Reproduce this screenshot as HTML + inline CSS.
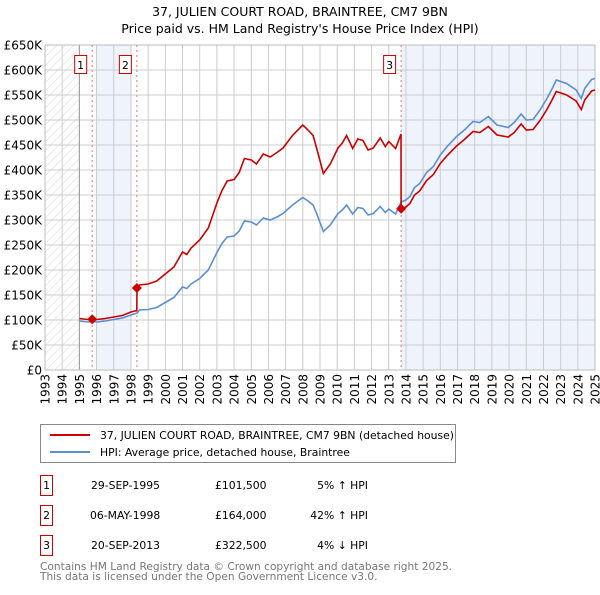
<!DOCTYPE html>
<html><head><meta charset="utf-8"><style>
body{margin:0;background:#fff;font-family:"Liberation Sans","DejaVu Sans",sans-serif;}
svg text{font-family:"DejaVu Sans","Liberation Sans",sans-serif;}
</style></head><body>
<svg id="c" width="600" height="590" xmlns="http://www.w3.org/2000/svg">
<defs><pattern id="hatch" width="6" height="6" patternUnits="userSpaceOnUse" patternTransform="rotate(45)"><line x1="0" y1="0" x2="0" y2="6" stroke="#ccc" stroke-width="0.8"/></pattern></defs>
<text x="300" y="16" text-anchor="middle" font-size="12.5" fill="#000">37, JULIEN COURT ROAD, BRAINTREE, CM7 9BN</text>
<text x="300" y="33" text-anchor="middle" font-size="12.5" fill="#000">Price paid vs. HM Land Registry's House Price Index (HPI)</text>
<g id="plot"></g>
<rect x="40.5" y="424.5" width="415" height="38" fill="#fff" stroke="#888"/>
<line x1="50" y1="435" x2="90" y2="435" stroke="#cc0000" stroke-width="2"/>
<text x="100" y="439" font-size="10.8">37, JULIEN COURT ROAD, BRAINTREE, CM7 9BN (detached house)</text>
<line x1="50" y1="452" x2="90" y2="452" stroke="#5b8fd4" stroke-width="2"/>
<text x="100" y="456" font-size="10.8">HPI: Average price, detached house, Braintree</text>
<g font-size="10.8">
<rect x="40.5" y="475.5" width="12" height="20" fill="#fff" stroke="#cc0000"/><text x="46.5" y="489" text-anchor="middle">1</text>
<text x="91" y="489">29-SEP-1995</text><text x="215" y="489">£101,500</text><text x="368" y="489" text-anchor="end">5% ↑ HPI</text>
<rect x="40.5" y="505.5" width="12" height="20" fill="#fff" stroke="#cc0000"/><text x="46.5" y="519" text-anchor="middle">2</text>
<text x="90" y="519">06-MAY-1998</text><text x="215" y="519">£164,000</text><text x="368" y="519" text-anchor="end">42% ↑ HPI</text>
<rect x="40.5" y="535.5" width="12" height="20" fill="#fff" stroke="#cc0000"/><text x="46.5" y="549" text-anchor="middle">3</text>
<text x="91" y="549">20-SEP-2013</text><text x="215" y="549">£322,500</text><text x="368" y="549" text-anchor="end">4% ↓ HPI</text>
</g>
<text x="40" y="570" font-size="10.6" fill="#777">Contains HM Land Registry data © Crown copyright and database right 2025.</text>
<text x="40" y="580" font-size="10.6" fill="#777">This data is licensed under the Open Government Licence v3.0.</text>
</svg>
<script>
var hpiYears=[1995.0,1995.5,1995.75,1996.0,1996.5,1997.0,1997.5,1998.0,1998.35,1998.5,1999.0,1999.5,2000.0,2000.5,2001.0,2001.25,2001.5,2002.0,2002.5,2003.0,2003.3,2003.6,2004.0,2004.3,2004.6,2005.0,2005.3,2005.7,2006.1,2006.5,2006.85,2007.4,2008.0,2008.3,2008.6,2008.8,2009.2,2009.6,2010.05,2010.3,2010.55,2010.9,2011.2,2011.5,2011.8,2012.1,2012.5,2012.8,2013.0,2013.4,2013.72,2014.0,2014.23,2014.5,2014.8,2015.2,2015.6,2016.0,2016.4,2016.95,2017.4,2017.9,2018.3,2018.8,2019.3,2019.95,2020.3,2020.7,2021.0,2021.4,2021.8,2022.2,2022.5,2022.75,2023.35,2023.9,2024.2,2024.4,2024.8,2025.0];
var hpiValues=[98,96,97,96,98,101,104,110,114,120,121,125,135,145,166,163,172,183,200,235,253,266,268,278,298,296,290,304,300,306,313,330,345,338,330,313,277,290,313,320,330,312,325,323,310,313,327,315,322,312,336,340,347,365,373,395,407,430,447,467,480,497,495,507,490,485,495,512,500,501,520,543,562,580,573,560,543,563,581,583];
var priceYears=[1995.0,1995.5,1995.75,1996.0,1996.5,1997.0,1997.5,1998.0,1998.34,1998.35,1998.5,1999.0,1999.5,2000.0,2000.5,2001.0,2001.25,2001.5,2002.0,2002.5,2003.0,2003.3,2003.6,2004.0,2004.3,2004.6,2005.0,2005.3,2005.7,2006.1,2006.5,2006.85,2007.4,2008.0,2008.3,2008.6,2008.8,2009.2,2009.6,2010.05,2010.3,2010.55,2010.9,2011.2,2011.5,2011.8,2012.1,2012.5,2012.8,2013.0,2013.4,2013.71,2013.72,2014.0,2014.23,2014.5,2014.8,2015.2,2015.6,2016.0,2016.4,2016.95,2017.4,2017.9,2018.3,2018.8,2019.3,2019.95,2020.3,2020.7,2021.0,2021.4,2021.8,2022.2,2022.5,2022.75,2023.35,2023.9,2024.2,2024.4,2024.8,2025.0];
var priceValues=[103,101,101.5,101,103,106,109,116,119,164,170,172,178,192,206,236,231,244,260,284,334,359,378,381,395,423,420,412,432,426,435,444,469,490,480,469,444,393,412,444,454,469,443,462,459,440,444,464,447,457,443,472,322.5,326,333,350,358,379,391,413,429,448,461,477,475,487,470,466,475,492,480,481,499,521,540,557,550,538,521,540,558,560];
var saleLabels=["1","2","3"];
var saleYears=[1995.745,1998.345,2013.72];
var saleValues=[101.5,164,322.5];
var yTicks=[0,50,100,150,200,250,300,350,400,450,500,550,600,650];
var yTickLabels=["£0","£50K","£100K","£150K","£200K","£250K","£300K","£350K","£400K","£450K","£500K","£550K","£600K","£650K"];
var xTicks=[1993,1994,1995,1996,1997,1998,1999,2000,2001,2002,2003,2004,2005,2006,2007,2008,2009,2010,2011,2012,2013,2014,2015,2016,2017,2018,2019,2020,2021,2022,2023,2024,2025];

var L=45,R=595,T=45,B=370,NS="http://www.w3.org/2000/svg";
function xs(y){return L+(y-1993)*(R-L)/32;}
function ys(v){return B-v*(B-T)/650;}
var g=document.getElementById('plot');
function mk(t,a){var e=document.createElementNS(NS,t);for(var k in a)e.setAttribute(k,a[k]);g.appendChild(e);return e;}
var e;
e=mk('rect',{x:L,y:T,width:R-L,height:B-T,fill:'#fff'});


e=mk('rect',{x:L,y:T,width:xs(1995)-L,height:B-T,fill:'url(#hatch)'});


e=mk('rect',{x:xs(1996),y:T,width:xs(1998)-xs(1996),height:B-T,fill:'#eef3fc'});


e=mk('rect',{x:xs(saleYears[2]),y:T,width:R-xs(saleYears[2]),height:B-T,fill:'#eef3fc'});


for(var i=0;i<yTicks.length;i++){
 e=mk('line',{x1:L,x2:R,y1:ys(yTicks[i]),y2:ys(yTicks[i]),stroke:'#ccc','stroke-width':1});
 
 
 e=mk('text',{x:L-3,y:ys(yTicks[i])+4.5,'text-anchor':'end','font-size':12});
 e.textContent=yTickLabels[i];
 
 
}
for(i=0;i<xTicks.length;i++){
 e=mk('line',{x1:xs(xTicks[i]),x2:xs(xTicks[i]),y1:T,y2:B,stroke:'#ccc','stroke-width':1});
 
 
 var tx=xs(xTicks[i])+4.5;
 e=mk('text',{x:tx,y:374,'text-anchor':'end','font-size':12,transform:'rotate(-90 '+tx+' 374)'});
 e.textContent=xTicks[i];
 
 
}
e=mk('line',{x1:xs(1995),x2:xs(1995),y1:T,y2:B,stroke:'#999'});


e=mk('rect',{x:L,y:T,width:R-L,height:B-T,fill:'none',stroke:'#bbb'});


for(i=0;i<saleYears.length;i++){
 e=mk('line',{x1:xs(saleYears[i]),x2:xs(saleYears[i]),y1:T,y2:B,stroke:'#f07070','stroke-dasharray':'2,3'});
 
 
}
function path(xa,va){var d='';for(var j=0;j<xa.length;j++)d+=(j?'L':'M')+xs(xa[j]).toFixed(1)+','+ys(va[j]).toFixed(1);return d;}
e=mk('path',{d:path(hpiYears,hpiValues),fill:'none',stroke:'#5b8fd4','stroke-width':1.6});


e=mk('path',{d:path(priceYears,priceValues),fill:'none',stroke:'#cc0000','stroke-width':1.6});


for(i=0;i<saleYears.length;i++){
 var cx=xs(saleYears[i]),cy=ys(saleValues[i]);
 e=mk('path',{d:'M'+cx+','+(cy-5)+'L'+(cx+5)+','+cy+'L'+cx+','+(cy+5)+'L'+(cx-5)+','+cy+'Z',fill:'#cc0000'});
 
 
 e=mk('rect',{x:cx-17.5,y:55.5,width:12,height:18,fill:'#fff',stroke:'#cc0000'});
 
 
 e=mk('text',{x:cx-11.5,y:69,'text-anchor':'middle','font-size':11});
 e.textContent=saleLabels[i];
 
 
}
</script>
</body></html>
